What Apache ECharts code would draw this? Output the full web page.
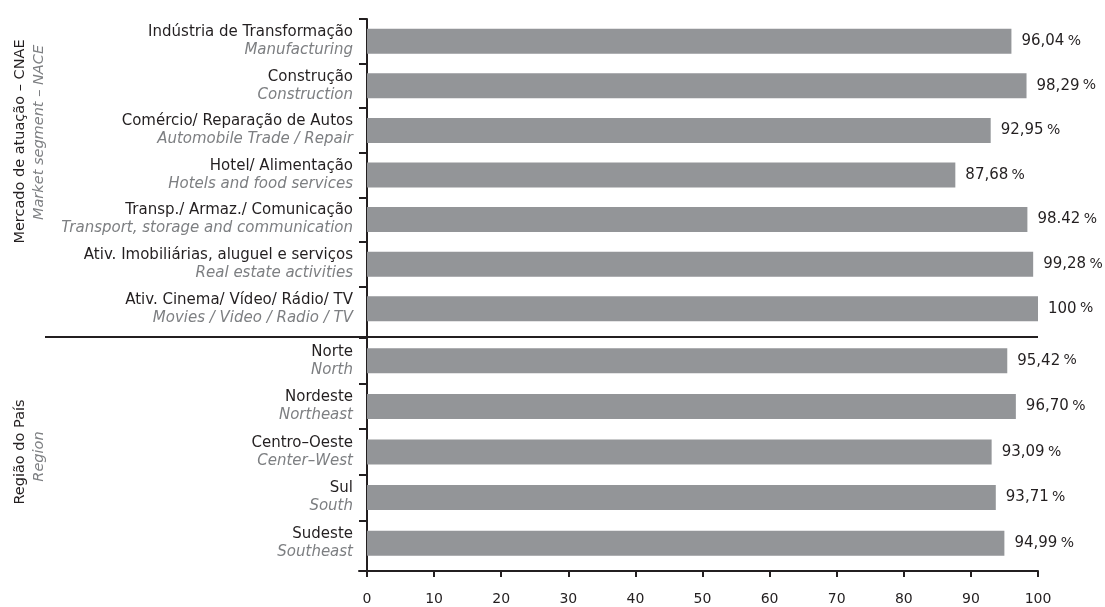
<!DOCTYPE html>
<html>
<head>
<meta charset="utf-8">
<script src="https://cdn.jsdelivr.net/npm/echarts@6/dist/echarts.min.js"></script>
<style>
  html, body { margin: 0; padding: 0; background: #ffffff; }
  #chart { width: 1105px; height: 607px; }
</style>
</head>
<body>
<div id="chart"></div>
<script>
// Market segments (CNAE / NACE)
const segmentsPt = [
  'Indústria de Transformação',
  'Construção',
  'Comércio/ Reparação de Autos',
  'Hotel/ Alimentação',
  'Transp./ Armaz./ Comunicação',
  'Ativ. Imobiliárias, aluguel e serviços',
  'Ativ. Cinema/ Vídeo/ Rádio/ TV'
];
const segmentsEn = [
  'Manufacturing',
  'Construction',
  'Automobile Trade / Repair',
  'Hotels and food services',
  'Transport, storage and communication',
  'Real estate activities',
  'Movies / Video / Radio / TV'
];
const segmentValues = [96.04, 98.29, 92.95, 87.68, 98.42, 99.28, 100];
const segmentLabels = ['96,04', '98,29', '92,95', '87,68', '98.42', '99,28', '100'];

// Regions of the country
const regionsPt = ['Norte', 'Nordeste', 'Centro–Oeste', 'Sul', 'Sudeste'];
const regionsEn = ['North', 'Northeast', 'Center–West', 'South', 'Southeast'];
const regionValues = [95.42, 96.70, 93.09, 93.71, 94.99];
const regionLabels = ['95,42', '96,70', '93,09', '93,71', '94,99'];

// Value axis
const xMin = 0;
const xMax = 100;
const xStep = 10;

// Group titles
const segmentTitle = ['Mercado de atuação – CNAE', 'Market segment – NACE'];
const regionTitle = ['Região do País', 'Region'];

// ---- styling / layout ----
const FONT = "'DejaVu Sans', sans-serif";
const INK = '#231f20';
const GREY_TEXT = '#7d7f82';
const BAR = '#939598';
const AXIS_LEFT = 367;
const PLOT_RIGHT = 1038;
const CHART_W = 1105;
const TOP = { top: 19, height: 312 };
const BOTTOM = { top: 338, height: 228 };
const X_AXIS_Y = 571;
const SEPARATOR_Y = 337;

// Categories run bottom-to-top on a non-inverted axis, so reverse them.
const rev = a => a.slice().reverse();

function categoryAxis(gridIndex, ptList, enList, title, titleShift, subShift, nameGap) {
  const pt = rev(ptList);
  const en = rev(enList);
  return {
    type: 'category',
    gridIndex: gridIndex,
    data: pt,
    axisLine: { show: false },
    axisTick: {
      show: true,
      length: 8,
      lineStyle: { color: INK, width: 2 },
      // no tick at the lower boundary of each group
      interval: function (index) { return index !== 0; }
    },
    axisLabel: {
      interval: 0,
      margin: 14,
      align: 'right',
      formatter: function (value, index) {
        return '{pt|' + value + '}\n{en|' + en[index] + '}';
      },
      rich: {
        pt: { fontFamily: FONT, fontSize: 15, color: INK, lineHeight: 18, align: 'right' },
        en: { fontFamily: FONT, fontSize: 15, fontStyle: 'italic', color: GREY_TEXT, lineHeight: 18, align: 'right' }
      }
    },
    name: '{a|' + title[0] + '}\n{b|' + title[1] + '}',
    nameLocation: 'middle',
    nameRotate: 90,
    nameGap: nameGap,
    nameTextStyle: {
      padding: titleShift,
      rich: {
        a: { fontFamily: FONT, fontSize: 14.5, color: INK, lineHeight: 19 },
        b: { fontFamily: FONT, fontSize: 14.5, fontStyle: 'italic', color: GREY_TEXT, lineHeight: 19, padding: subShift }
      }
    },
    splitLine: { show: false }
  };
}

function barSeries(axisIndex, values, labels) {
  const v = rev(values);
  const l = rev(labels);
  return {
    type: 'bar',
    xAxisIndex: axisIndex,
    yAxisIndex: axisIndex,
    data: v,
    barWidth: 25,
    itemStyle: { color: BAR },
    silent: true,
    label: {
      show: true,
      position: 'right',
      distance: 10,
      formatter: function (p) { return '{v|' + l[p.dataIndex] + '} {p|%}'; },
      rich: {
        v: { fontFamily: FONT, fontSize: 15, color: INK },
        p: { fontFamily: FONT, fontSize: 14, color: INK }
      }
    }
  };
}

const chart = echarts.init(document.getElementById('chart'), null, { renderer: 'canvas' });

chart.setOption({
  animation: false,
  backgroundColor: '#ffffff',
  grid: [
    { left: AXIS_LEFT, right: CHART_W - PLOT_RIGHT, top: TOP.top, height: TOP.height },
    { left: AXIS_LEFT, right: CHART_W - PLOT_RIGHT, top: BOTTOM.top, height: BOTTOM.height },
    // frame: continuous vertical axis line and the lower-left stub
    { left: AXIS_LEFT - 8, width: 8, top: TOP.top, height: X_AXIS_Y - TOP.top }
  ],
  xAxis: [
    { type: 'value', gridIndex: 0, min: xMin, max: xMax, interval: xStep, show: false },
    {
      type: 'value', gridIndex: 1, min: xMin, max: xMax, interval: xStep,
      offset: X_AXIS_Y - (BOTTOM.top + BOTTOM.height),
      axisLine: { show: true, onZero: false, lineStyle: { color: INK, width: 2 } },
      axisTick: { show: true, length: 6, lineStyle: { color: INK, width: 2 } },
      axisLabel: { fontFamily: FONT, fontSize: 14, color: INK, margin: 21 },
      splitLine: { show: false }
    },
    {
      type: 'value', gridIndex: 2, min: 0, max: 1,
      axisLine: { show: true, onZero: false, lineStyle: { color: INK, width: 2 } },
      axisTick: { show: false }, axisLabel: { show: false }, splitLine: { show: false }
    }
  ],
  yAxis: [
    categoryAxis(0, segmentsPt, segmentsEn, segmentTitle, [0, 0, 0, 67], [0, 0, 0, 18], 318),
    categoryAxis(1, regionsPt, regionsEn, regionTitle, [0, 0, 0, 0], [0, 9, 0, 0], 318),
    {
      type: 'value', gridIndex: 2, position: 'right', min: 0, max: 1,
      axisLine: { show: true, onZero: false, lineStyle: { color: INK, width: 2 } },
      axisTick: { show: false }, axisLabel: { show: false }, splitLine: { show: false }
    }
  ],
  series: [
    barSeries(0, segmentValues, segmentLabels),
    barSeries(1, regionValues, regionLabels)
  ],
  graphic: [
    {
      type: 'line',
      silent: true,
      shape: { x1: 45, y1: SEPARATOR_Y, x2: PLOT_RIGHT, y2: SEPARATOR_Y },
      style: { stroke: INK, lineWidth: 2 }
    }
  ]
});
</script>
</body>
</html>
